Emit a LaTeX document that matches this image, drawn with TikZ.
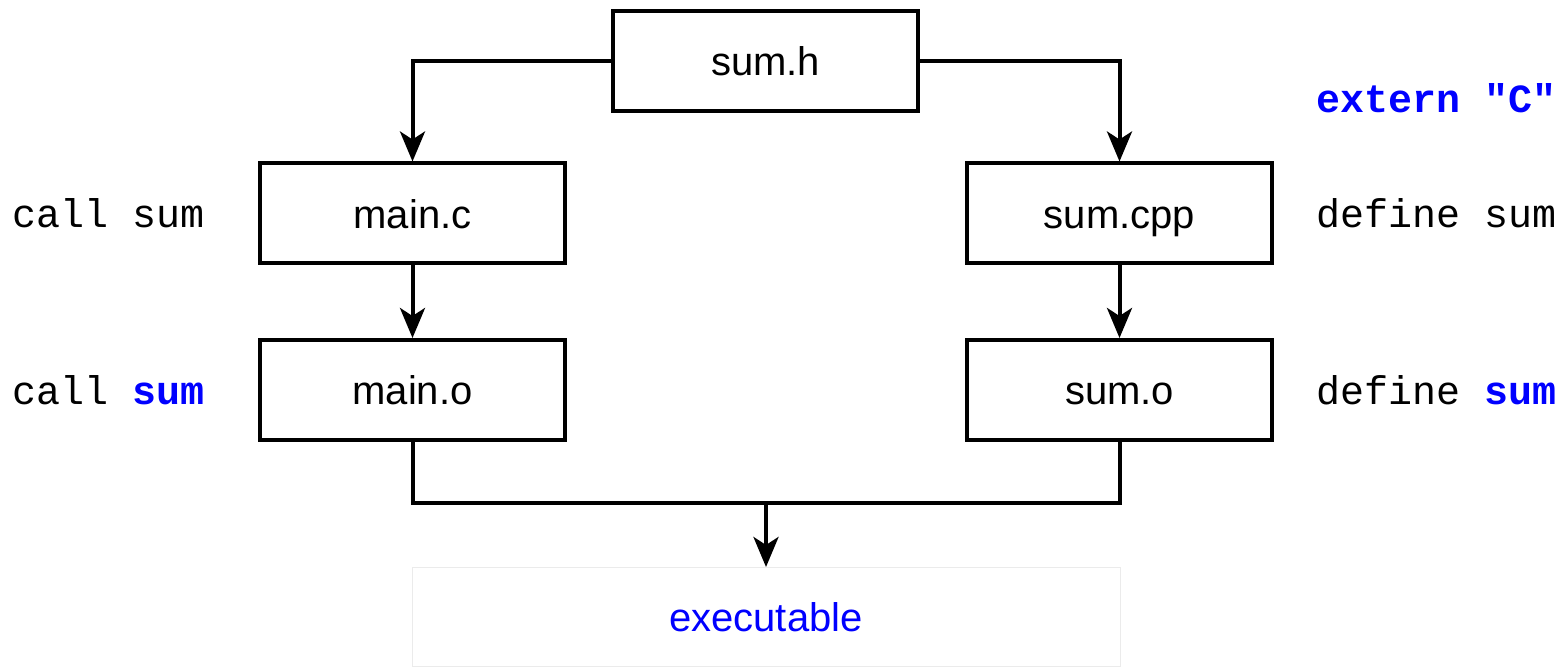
\documentclass[tikz,border=0pt]{standalone}
\usepackage{fontspec}
\setmainfont{Liberation Sans}
\setmonofont{Liberation Mono}
\usetikzlibrary{arrows.meta}
\definecolor{codeblue}{RGB}{0,0,255}
\definecolor{faint}{RGB}{235,235,235}
\begin{document}
\begin{tikzpicture}[x=0.5pt,y=-0.5pt,
  filebox/.style={draw=black,line width=2pt,minimum width=152.5pt,minimum height=50pt,inner sep=0pt,text height=14.6pt,text depth=0pt,font=\fontsize{20}{24}\selectfont},
  conn/.style={line width=2pt,-{Stealth[length=15pt,width=12.5pt,inset=4pt]}},
  plain/.style={line width=2pt},
  lbl/.style={anchor=west,inner sep=0pt,font=\ttfamily\fontsize{20}{24}\selectfont}]
\useasboundingbox (0,0) rectangle (1563,667);
\node[filebox] (sumh) at (765.5,61) {sum.h};
\node[filebox] (mainc) at (412.5,213.5) {main.c};
\node[filebox] (sumcpp) at (1119.5,213.5) {sum.cpp};
\node[filebox] (maino) at (412.5,390) {main.o};
\node[filebox] (sumo) at (1119.5,390) {sum.o};
\node[draw=faint,line width=0.5pt,minimum width=354pt,minimum height=49.5pt,inner sep=0pt,text height=14.6pt,text depth=0pt,text=codeblue,font=\fontsize{20}{24}\selectfont] (exe) at (766,617) {executable};
\coordinate (mid) at (766,503);
\draw[conn] (sumh.west) -| (mainc.north);
\draw[conn] (sumh.east) -| (sumcpp.north);
\draw[conn] (mainc) -- (maino);
\draw[conn] (sumcpp) -- (sumo);
\draw[plain] (maino.south) |- (mid) -| (sumo.south);
\draw[conn] (mid) -- (exe.north);
\node[lbl] (l1) at (12,213) {call sum};
\node[lbl] (l2) at (12,390) {call \textcolor{codeblue}{\bfseries sum}};
\node[lbl] (r0) at (1316,98) {\textcolor{codeblue}{\bfseries extern "C"}};
\node[lbl] (r1) at (1316,213) {define sum};
\node[lbl] (r2) at (1316,390) {define \textcolor{codeblue}{\bfseries sum}};
\end{tikzpicture}
\end{document}
